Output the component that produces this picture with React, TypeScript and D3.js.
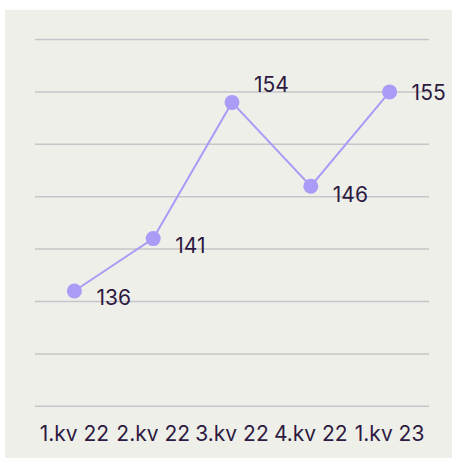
import React, { useRef, useEffect } from 'react';
import * as d3 from 'd3';

const quarters = ['1.kv 22', '2.kv 22', '3.kv 22', '4.kv 22', '1.kv 23'];
const values = [136, 141, 154, 146, 155];
const gridTicks = [125, 130, 135, 140, 145, 150, 155, 160];
// vertical nudge for each value label (px, relative to its point)
const labelDy = [14, 14, -10, 16, 8];

const W = 452;
const H = 458;

export default function App() {
  const svgRef = useRef<SVGSVGElement>(null);

  useEffect(() => {
    if (!svgRef.current) return;
    const svg = d3.select(svgRef.current);
    svg.selectAll('*').remove();

    const font = 'Inter, "Noto Sans", sans-serif';
    const textColor = '#2d1a40';
    const lineColor = '#a99bf6';

    svg.append('rect')
      .attr('x', 5).attr('y', 10)
      .attr('width', W - 5).attr('height', H - 10)
      .attr('fill', '#efefea');

    const x = d3.scaleBand<string>()
      .domain(quarters)
      .range([35, 429])
      .padding(0);

    const y = d3.scaleLinear()
      .domain([125, 160])
      .range([406.3, 39.5]);

    // Grid
    svg.append('g')
      .selectAll('line')
      .data(gridTicks)
      .join('line')
      .attr('x1', 35).attr('x2', 429)
      .attr('y1', d => y(d)).attr('y2', d => y(d))
      .attr('stroke', '#c8c4c9')
      .attr('stroke-width', 1.5);

    // X labels
    svg.append('g')
      .selectAll('text')
      .data(quarters)
      .join('text')
      .attr('x', d => (x(d) ?? 0) + x.bandwidth() / 2)
      .attr('y', 441)
      .attr('text-anchor', 'middle')
      .style('font-family', font)
      .style('font-size', '21px')
      .style('fill', textColor)
      .text(d => d);

    const pts = quarters.map((q, i) => ({ q, v: values[i], i }));
    const cx = (d: { q: string }) => (x(d.q) ?? 0) + x.bandwidth() / 2;

    const line = d3.line<{ q: string; v: number }>()
      .x(d => cx(d))
      .y(d => y(d.v));

    svg.append('path')
      .datum(pts)
      .attr('fill', 'none')
      .attr('stroke', lineColor)
      .attr('stroke-width', 2)
      .attr('d', line);

    svg.append('g')
      .selectAll('circle')
      .data(pts)
      .join('circle')
      .attr('cx', d => cx(d))
      .attr('cy', d => y(d.v))
      .attr('r', 7.5)
      .attr('fill', lineColor);

    svg.append('g')
      .selectAll('text')
      .data(pts)
      .join('text')
      .attr('x', d => cx(d) + 22)
      .attr('y', d => y(d.v) + labelDy[d.i])
      .style('font-family', font)
      .style('font-size', '21px')
      .style('fill', textColor)
      .text(d => String(d.v));
  }, []);

  return (
    <svg
      ref={svgRef}
      width={W}
      height={H}
      style={{ position: 'absolute', left: 0, top: 0, display: 'block' }}
    />
  );
}
